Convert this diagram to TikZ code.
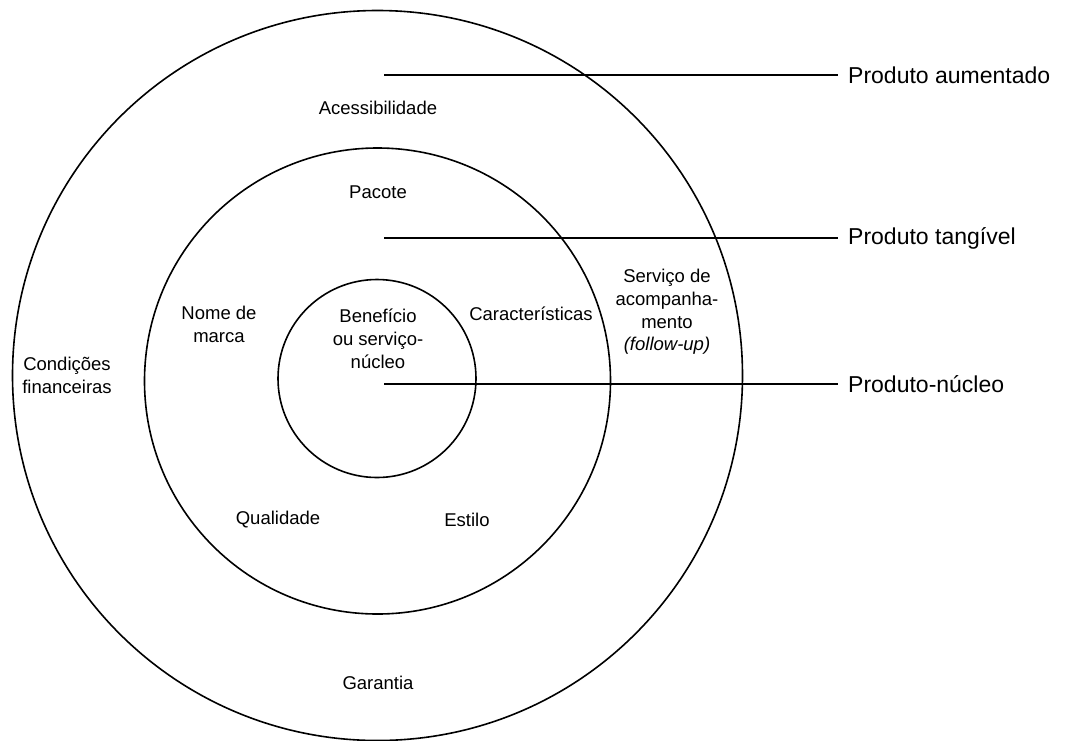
\documentclass[tikz,border=0pt]{standalone}
\usepackage{fontspec}
\setmainfont{Liberation Sans}
\begin{document}
\begin{tikzpicture}[x=1pt,y=-1pt,
  ring/.style={draw,circle,line width=1.6pt,inner sep=0pt},
  lbl/.style={align=center,font=\fontsize{18.5}{22.8}\selectfont,inner sep=0pt},
  side/.style={anchor=west,font=\fontsize{23}{27}\selectfont,inner xsep=10pt,inner ysep=0pt},
  conn/.style={line width=1.6pt}]
\useasboundingbox (0,0) rectangle (1066,740);
\node[ring,minimum size=730pt] (outer) at (377.5,375.5) {};
\node[ring,minimum size=466pt] (middle) at (377.5,381) {};
\node[ring,minimum size=198pt] (inner) at (377,378.5) {};
% labels
\node[lbl] (acess) at (378,108) {Acessibilidade};
\node[lbl] (pacote) at (378,192) {Pacote};
\node[lbl] (nome) at (219,324) {Nome de\\marca};
\node[lbl] (benef) at (378,339) {Benefício\\ou serviço-\\núcleo};
\node[lbl] (carac) at (531,314) {Características};
\node[lbl] (serv) at (667,312) {Serviço de\\acompanha-\\mento\\\textit{(follow-up)}};
\node[lbl] (cond) at (67,375) {Condições\\financeiras};
\node[lbl] (qual) at (278,520) {Qualidade};
\node[lbl] (estilo) at (467,520) {Estilo};
\node[lbl] (gar) at (378,683) {Garantia};
% side labels
\node[side] (aum) at (838,75) {Produto aumentado};
\node[side] (tang) at (838,238) {Produto tangível};
\node[side] (nuc) at (838,384) {Produto-núcleo};
\coordinate (s1) at (384,75);
\coordinate (s2) at (384,238);
\coordinate (s3) at (384,384);
\draw[conn] (s1) -- (aum.west);
\draw[conn] (s2) -- (tang.west);
\draw[conn] (s3) -- (nuc.west);
\end{tikzpicture}
\end{document}
